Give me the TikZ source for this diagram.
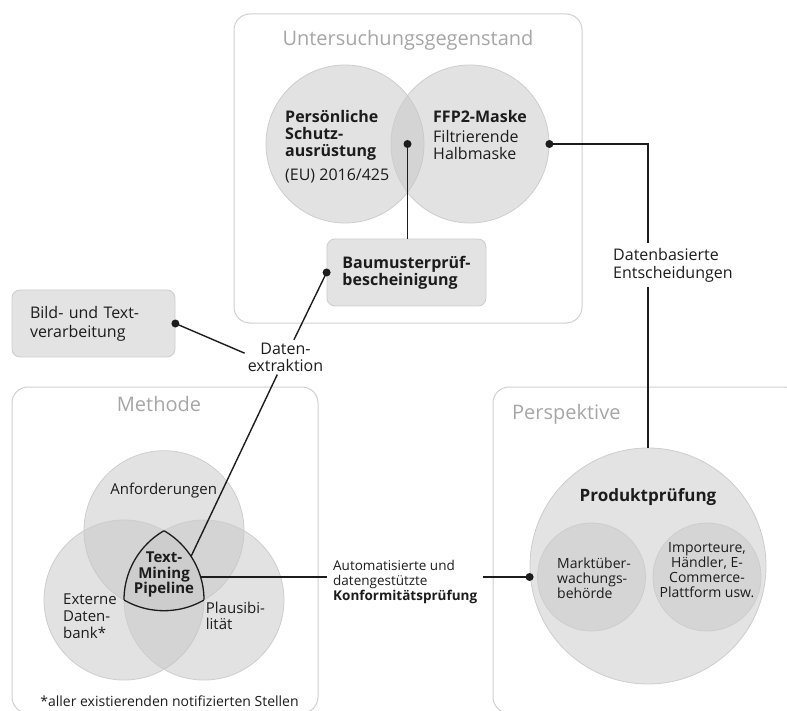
\documentclass[tikz,border=0pt]{standalone}
\usepackage{fontspec}
\setmainfont{Open Sans}
\usetikzlibrary{calc}

\definecolor{ink}{HTML}{1C1C1C}
\definecolor{frame}{HTML}{D0D0D0}
\definecolor{titlegray}{HTML}{A6A6A6}
\definecolor{panelfill}{HTML}{E3E3E3}
\definecolor{panelrim}{HTML}{CDCDCD}
\definecolor{setfill}{HTML}{C6C6C6}
\definecolor{subfill}{HTML}{D5D5D5}

\newcommand{\fsz}[2]{\fontsize{#1pt}{#2pt}\selectfont}

\begin{document}
\begin{tikzpicture}[x=1pt, y=-1pt,
  every node/.style={text=ink},
  panel/.style={draw=frame, line width=1pt, rounded corners=16pt},
  paneltitle/.style={text=titlegray, font=\fsz{20}{24}, inner sep=0pt, anchor=base},
  setcircle/.style={circle, draw=panelrim, line width=0.8pt, fill=setfill, fill opacity=0.5, inner sep=0pt},
  labelbox/.style={rectangle, rounded corners=8pt, draw=panelrim, line width=0.8pt, fill=panelfill,
    minimum height=67pt, align=left, font=\bfseries\fsz{16}{17}},
  body/.style={inner sep=0pt, font=\fsz{16}{17.5}},
  strong/.style={inner sep=0pt, font=\bfseries\fsz{16}{17}},
  small/.style={inner sep=0pt, font=\fsz{14}{15}},
  venntext/.style={inner sep=0pt, font=\fsz{15}{17}},
  link/.style={draw=ink, line width=1.4pt},
  dot/.style={circle, fill=ink, inner sep=0pt, minimum size=8pt},
  pipeline/.style={draw=ink, line width=1.3pt},
]
\useasboundingbox (0,0) rectangle (787,711);
\clip (0,0) rectangle (787,711);

% ---- panels ----
\draw[panel] (234,14) rectangle (582,323);
\draw[panel] (12,387) rectangle (318,713);
\draw[panel] (493,387) rectangle (800,713);
\node[paneltitle] (ttop) at (408,46) {Untersuchungsgegenstand};
\node[paneltitle] (tmeth) at (159,411) {Methode};
\node[paneltitle, anchor=base west] (tpersp) at (512,419) {Perspektive};

% ---- subject of investigation ----
\node[setcircle, minimum size=158pt] (psa) at (345,144) {};
\node[setcircle, minimum size=158pt] (ffp) at (470,144) {};
\node[strong, anchor=west, align=left] (psatxt) at (285,135.8) {Persönliche\\Schutz-\\ausrüstung};
\node[body, anchor=west] (eutxt) at (285,176) {(EU) 2016/425};
\node[strong, anchor=west] (ffptxt) at (433,116.3) {FFP2-Maske};
\node[body, anchor=west, align=left] (halbtxt) at (433,145.2) {Filtrierende\\Halbmaske};
\node[labelbox, minimum width=159pt] (baum) at (406.5,272.5) {Baumusterprüf-\\bescheinigung};

% ---- image and text processing ----
\node[labelbox, font=\fsz{16}{19}, minimum width=163pt, text width=127pt, inner xsep=18pt]
  (bild) at (93.5,323.5) {Bild- und Text-\\verarbeitung};
\node[align=center, inner sep=3pt, font=\fsz{16}{16.7}] (datex) at (285.5,357.2) {Daten-\\extraktion};

% ---- method: three-set diagram ----
\node[setcircle, minimum size=160pt] (anf) at (164,530.7) {};
\node[setcircle, minimum size=160pt] (ext) at (124,600) {};
\node[setcircle, minimum size=160pt] (pla) at (204,600) {};
\begin{scope}
  \clip (ext.center) circle[radius=80pt];
  \clip (pla.center) circle[radius=80pt];
  \draw[pipeline] (anf.center) circle[radius=80pt];
\end{scope}
\begin{scope}
  \clip (anf.center) circle[radius=80pt];
  \clip (pla.center) circle[radius=80pt];
  \draw[pipeline] (ext.center) circle[radius=80pt];
\end{scope}
\begin{scope}
  \clip (anf.center) circle[radius=80pt];
  \clip (ext.center) circle[radius=80pt];
  \draw[pipeline] (pla.center) circle[radius=80pt];
\end{scope}
\node[venntext] (anftxt) at (163.7,491) {Anforderungen};
\node[venntext, anchor=west, align=left] (exttxt) at (63,616.3) {Externe\\Daten-\\bank*};
\node[venntext, anchor=west, align=left, font=\fsz{15}{16.7}] (platxt) at (205.7,616) {Plausibi-\\lität};
\node[inner sep=0pt, align=center, font=\bfseries\fsz{15}{15.7}] (pipe) at (164,574.5) {Text-\\Mining\\Pipeline};
\node[anchor=base, inner sep=0pt, font=\fsz{14}{16}] (note) at (169.5,706.5) {*aller existierenden notifizierten Stellen};
\coordinate (pipeR) at (200.6,577);
\coordinate (pipeU) at (191,556.5);

% ---- perspective ----
\node[circle, draw=panelrim, line width=0.8pt, fill=panelfill, minimum size=236pt, inner sep=0pt] (prod) at (648,566) {};
\node[circle, draw=panelrim, line width=0.8pt, fill=subfill, minimum size=108pt, inner sep=0pt] (mkt) at (591.5,577) {};
\node[circle, draw=panelrim, line width=0.8pt, fill=subfill, minimum size=108pt, inner sep=0pt] (imp) at (707,577) {};
\node[inner sep=0pt, font=\bfseries\fsz{17}{20}] (prodtxt) at (648,497.2) {Produktprüfung};
\node[small, anchor=west, align=left] (mkttxt) at (557,578) {Marktüber-\\wachungs-\\behörde};
\node[small, align=center] (imptxt) at (707,570.5) {Importeure,\\Händler, E-\\Commerce-\\Plattform usw.};

% ---- connector labels ----
\node[anchor=west, align=left, inner sep=6pt, font=\fsz{13.5}{14.8}] (konf) at (327,582)
  {Automatisierte und\\datengestützte\\\textbf{Konformitätsprüfung}};
\node[anchor=west, align=left, inner xsep=0pt, inner ysep=5pt, font=\fsz{16}{18}] (datenb) at (613,265)
  {Datenbasierte\\Entscheidungen};

% ---- connectors ----
\coordinate (lens) at ($(psa.center)!0.5!(ffp.center)$);
\draw[link] (lens) -- (lens |- baum.north);
\draw[link] (ffp.east) -| (datenb.north -| prod.north);
\draw[link] (datenb.south -| prod.north) -- (prod.north);
\draw[link] (baum.west) -- (datex);
\draw[link] (datex) -- (pipeU);
\draw[link] (bild.east) -- ([yshift=4pt]datex.west);
\draw[link] (pipeR) -- (pipeR -| konf.west);
\draw[link] (pipeR -| konf.east) -- (pipeR -| prod.west);

\node[dot] (lensdot) at (lens) {};
\node[dot] (ffpdot) at (ffp.east) {};
\node[dot] (baumdot) at (baum.west) {};
\node[dot] (bilddot) at (bild.east) {};
\node[dot] (proddot) at (pipeR -| prod.west) {};
\end{tikzpicture}
\end{document}
